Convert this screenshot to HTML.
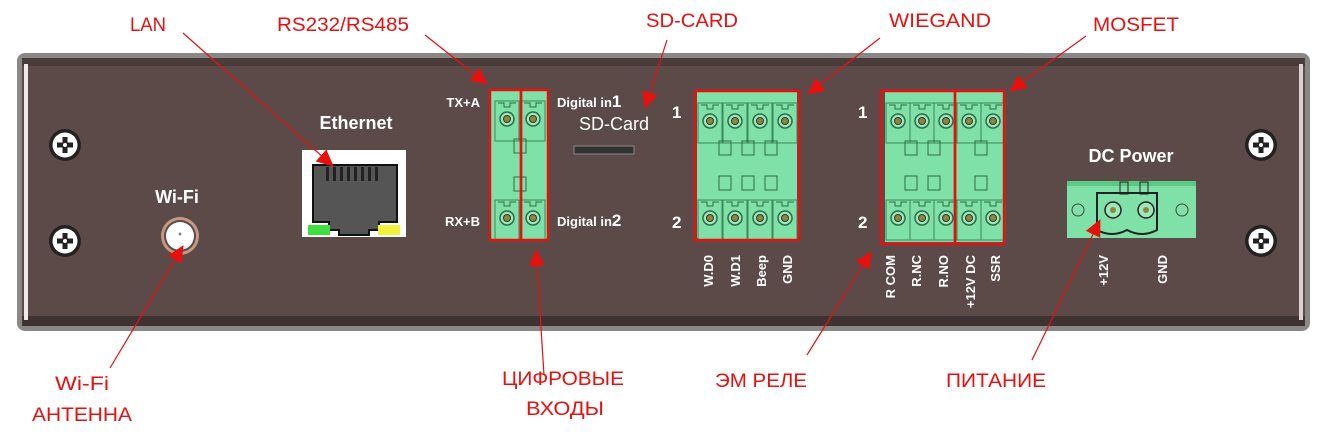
<!DOCTYPE html>
<html><head><meta charset="utf-8"><style>
html,body{margin:0;padding:0;background:#fff;width:1330px;height:439px;overflow:hidden}
svg{display:block}
.r{fill:#e8100f;font-family:"Liberation Sans",sans-serif;font-size:19px}
.w{fill:#fff;font-family:"Liberation Sans",sans-serif;font-weight:bold}
</style></head><body>
<svg width="1330" height="439" viewBox="0 0 1330 439" xmlns="http://www.w3.org/2000/svg">
<defs>
<marker id="a" markerWidth="18" markerHeight="16" refX="16" refY="8" orient="auto" markerUnits="userSpaceOnUse"><path d="M0,0 L17,8 L0,16z" fill="#e8100f"/></marker>
<g id="pin"><rect x="-12" y="-18" width="24" height="40" fill="#7fe0a8" stroke="#3a8a5a" stroke-width="1"/><path d="M-9,-16 h6 v4 h6 v-4 h6" fill="none" stroke="#2d6b45"/><circle r="7" fill="#9be8bb" stroke="#2d6b45" stroke-width="1.5"/><circle r="3.5" fill="#8a8a3a" stroke="#333"/></g>
<g id="sq"><rect x="-6" y="-7" width="12" height="14" fill="none" stroke="#2d6b45" stroke-width="1"/></g>
<g id="scr"><circle r="16" fill="#222"/><circle r="12.5" fill="#fff"/><path d="M-8,-2.5h16v5h-16zM-2.5,-8h5v16h-5z" fill="#222"/><circle r="2" fill="#fff"/></g>
</defs>
<!-- panel -->
<rect x="17" y="53" width="1293" height="278" rx="8" fill="#8a8787"/>
<rect x="22" y="58" width="1283" height="268" rx="6" fill="#5b4a48"/>
<rect x="22" y="58" width="1283" height="8" fill="#4a3c3a"/>
<rect x="22" y="316" width="1283" height="10" fill="#3e3332"/>
<rect x="24" y="64" width="4" height="256" fill="#efe9e9"/>
<rect x="1299" y="64" width="4" height="256" fill="#d8d3d3"/>
<use href="#scr" x="65" y="145"/><use href="#scr" x="65" y="241"/>
<use href="#scr" x="1261" y="145"/><use href="#scr" x="1261" y="241"/>
<!-- wifi -->
<text class="w" x="177" y="203" font-size="18" text-anchor="middle">Wi-Fi</text>
<circle cx="180" cy="236" r="19" fill="#c79a80"/><circle cx="180" cy="236" r="16" fill="#5b4a48"/><circle cx="180" cy="236" r="14" fill="#fff"/><circle cx="180" cy="234" r="1.5" fill="#888"/>
<!-- ethernet -->
<text class="w" x="356" y="129" font-size="18" text-anchor="middle">Ethernet</text>
<rect x="302" y="150" width="104" height="87" fill="#fff"/>
<path d="M313,165 h84 v57 h-18 v8 h-10 v5 h-30 v-5 h-10 v-8 h-16z" fill="#555" stroke="#111" stroke-width="2"/>
<g fill="#222"><rect x="326" y="167" width="3" height="14"/><rect x="333" y="167" width="3" height="14"/><rect x="340" y="167" width="3" height="14"/><rect x="347" y="167" width="3" height="14"/><rect x="354" y="167" width="3" height="14"/><rect x="361" y="167" width="3" height="14"/><rect x="368" y="167" width="3" height="14"/><rect x="375" y="167" width="3" height="14"/></g>
<rect x="308" y="225" width="22" height="10" fill="#3ee03e"/><rect x="378" y="225" width="22" height="10" fill="#f2f23a"/>
<!-- RS block -->
<text class="w" x="480" y="107" font-size="13" text-anchor="end">TX+A</text>
<text class="w" x="480" y="226" font-size="13" text-anchor="end">RX+B</text>
<rect x="491" y="91" width="56" height="148" fill="#7fe0a8"/>
<use href="#pin" x="507" y="119"/><use href="#pin" x="533" y="119"/>
<use href="#pin" x="507" y="218"/><use href="#pin" x="533" y="218"/>
<use href="#sq" x="520" y="146"/><use href="#sq" x="520" y="184"/>
<rect x="490" y="90" width="31" height="150" fill="none" stroke="#e8100f" stroke-width="2.5"/>
<rect x="521" y="90" width="27" height="150" fill="none" stroke="#e8100f" stroke-width="2.5"/>
<text class="w" x="557" y="107" font-size="13">Digital in<tspan font-size="17">1</tspan></text>
<text class="w" x="557" y="226" font-size="13">Digital in<tspan font-size="17">2</tspan></text>
<text x="579" y="130" font-size="18" fill="#fff" font-family="Liberation Sans,sans-serif">SD-Card</text>
<rect x="574" y="146" width="60" height="8" fill="#333" stroke="#888"/>
<!-- wiegand -->
<text class="w" x="672" y="118" font-size="17">1</text><text class="w" x="672" y="228" font-size="17">2</text>
<rect x="697" y="92" width="100" height="146" fill="#7fe0a8"/>
<use href="#pin" x="710" y="121"/><use href="#pin" x="735" y="121"/><use href="#pin" x="760" y="121"/><use href="#pin" x="785" y="121"/>
<use href="#pin" x="710" y="218"/><use href="#pin" x="735" y="218"/><use href="#pin" x="760" y="218"/><use href="#pin" x="785" y="218"/>
<use href="#sq" x="725" y="148"/><use href="#sq" x="748" y="148"/><use href="#sq" x="771" y="148"/>
<use href="#sq" x="725" y="183"/><use href="#sq" x="748" y="183"/><use href="#sq" x="771" y="183"/>
<rect x="695" y="91" width="104" height="149" fill="none" stroke="#e8100f" stroke-width="2.5"/>
<g class="w" font-size="13" text-anchor="end"><text transform="translate(713,255) rotate(-90)">W.D0</text><text transform="translate(740,255) rotate(-90)">W.D1</text><text transform="translate(766,255) rotate(-90)">Beep</text><text transform="translate(792,255) rotate(-90)">GND</text></g>
<!-- relay/mosfet -->
<text class="w" x="858" y="118" font-size="17">1</text><text class="w" x="858" y="228" font-size="17">2</text>
<rect x="885" y="92" width="118" height="150" fill="#7fe0a8"/>
<use href="#pin" x="898" y="121"/><use href="#pin" x="922" y="121"/><use href="#pin" x="946" y="121"/><use href="#pin" x="969" y="121"/><use href="#pin" x="993" y="121"/>
<use href="#pin" x="898" y="218"/><use href="#pin" x="922" y="218"/><use href="#pin" x="946" y="218"/><use href="#pin" x="969" y="218"/><use href="#pin" x="993" y="218"/>
<use href="#sq" x="911" y="148"/><use href="#sq" x="934" y="148"/><use href="#sq" x="981" y="148"/>
<use href="#sq" x="911" y="183"/><use href="#sq" x="934" y="183"/><use href="#sq" x="981" y="183"/>
<rect x="881" y="91" width="74" height="153" fill="none" stroke="#e8100f" stroke-width="2.5"/>
<rect x="955" y="91" width="49" height="153" fill="none" stroke="#e8100f" stroke-width="2.5"/>
<g class="w" font-size="13" text-anchor="end"><text transform="translate(895,255) rotate(-90)">R COM</text><text transform="translate(921,255) rotate(-90)">R.NC</text><text transform="translate(948,255) rotate(-90)">R.NO</text><text transform="translate(975,255) rotate(-90)">+12V DC</text><text transform="translate(1000,255) rotate(-90)">SSR</text></g>
<!-- DC power -->
<text class="w" x="1131" y="162" font-size="18" text-anchor="middle">DC Power</text>
<rect x="1067" y="181" width="129" height="57" fill="#7fe0a8"/>
<rect x="1067" y="181" width="129" height="5" fill="#5cc985"/>
<path d="M1097,193 h60 v37 q-15,8 -30,0 q-15,8 -30,0z" fill="#7fe0a8" stroke="#222" stroke-width="2"/>
<rect x="1120" y="182" width="8" height="12" fill="none" stroke="#222"/><rect x="1140" y="182" width="8" height="12" fill="none" stroke="#222"/>
<circle cx="1113" cy="210" r="8" fill="#9be8bb" stroke="#222" stroke-width="1.5"/><circle cx="1113" cy="210" r="3" fill="#8a8a3a"/>
<circle cx="1146" cy="210" r="8" fill="#9be8bb" stroke="#222" stroke-width="1.5"/><circle cx="1146" cy="210" r="3" fill="#8a8a3a"/>
<circle cx="1078" cy="210" r="6" fill="none" stroke="#444"/><circle cx="1182" cy="210" r="6" fill="none" stroke="#444"/>
<g class="w" font-size="13" text-anchor="end"><text transform="translate(1108,255) rotate(-90)">+12V</text><text transform="translate(1167,255) rotate(-90)">GND</text></g>
<!-- labels -->
<g class="r" text-anchor="middle">
<text x="148" y="31" textLength="36" lengthAdjust="spacingAndGlyphs">LAN</text>
<text x="343" y="31" textLength="132" lengthAdjust="spacingAndGlyphs">RS232/RS485</text>
<text x="692" y="27" textLength="92" lengthAdjust="spacingAndGlyphs">SD-CARD</text>
<text x="940" y="27" textLength="102" lengthAdjust="spacingAndGlyphs">WIEGAND</text>
<text x="1136" y="31" textLength="86" lengthAdjust="spacingAndGlyphs">MOSFET</text>
<text x="82" y="390" textLength="54" lengthAdjust="spacingAndGlyphs">Wi-Fi</text>
<text x="82" y="421" textLength="100" lengthAdjust="spacingAndGlyphs">АНТЕННА</text>
<text x="563" y="385" textLength="122" lengthAdjust="spacingAndGlyphs">ЦИФРОВЫЕ</text>
<text x="565" y="415" textLength="78" lengthAdjust="spacingAndGlyphs">ВХОДЫ</text>
<text x="761" y="387" textLength="92" lengthAdjust="spacingAndGlyphs">ЭМ РЕЛЕ</text>
<text x="996" y="387" textLength="100" lengthAdjust="spacingAndGlyphs">ПИТАНИЕ</text>
</g>
<g stroke="#e8100f" stroke-width="1.2" fill="none" marker-end="url(#a)">
<line x1="183" y1="33" x2="333" y2="166"/>
<line x1="425" y1="35" x2="487" y2="84"/>
<line x1="667" y1="40" x2="645" y2="108"/>
<line x1="880" y1="38" x2="808" y2="94"/>
<line x1="1086" y1="36" x2="1010" y2="91"/>
<line x1="110" y1="368" x2="183" y2="246"/>
<line x1="544" y1="375" x2="536" y2="250"/>
<line x1="807" y1="355" x2="871" y2="252"/>
<line x1="1032" y1="360" x2="1100" y2="220"/>
</g>
</svg>
</body></html>
